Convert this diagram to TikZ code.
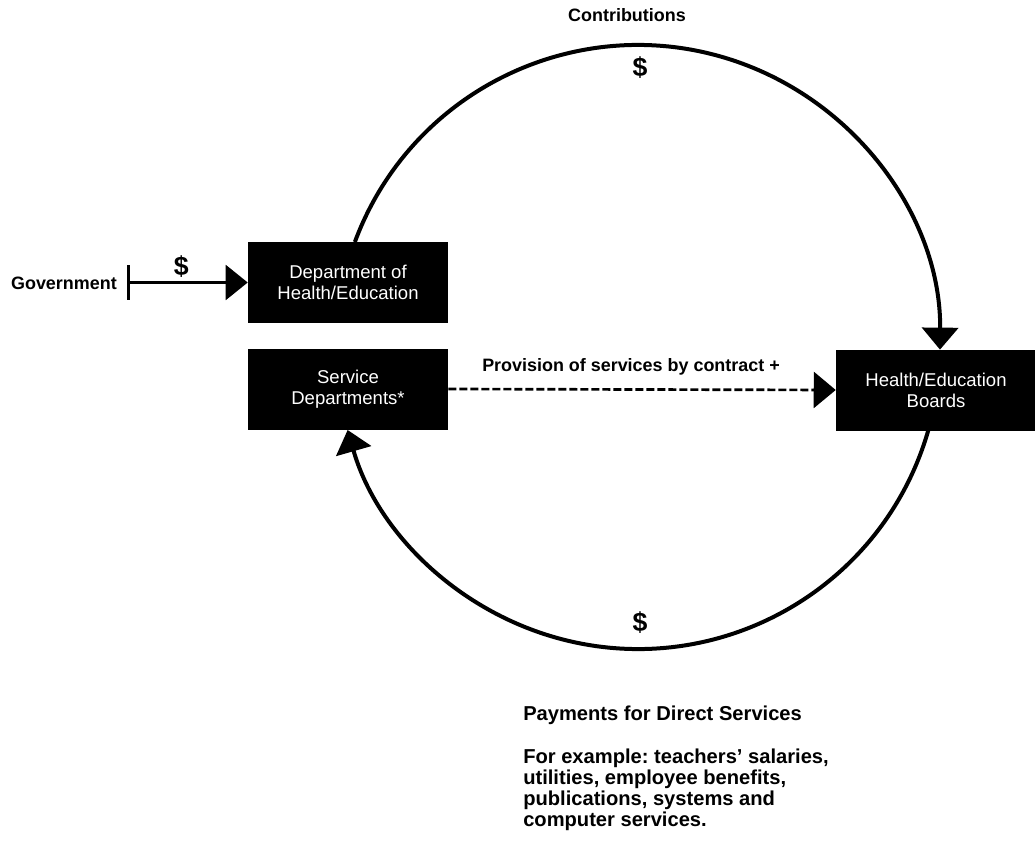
\documentclass[tikz,border=0pt]{standalone}
\usepackage{fontspec}
\setmainfont{Liberation Sans}
\usetikzlibrary{arrows.meta,calc}
\frenchspacing

\begin{document}
\begin{tikzpicture}[x=0.75pt, y=-0.75pt,
  box/.style={fill=black, text=white, inner sep=0pt, minimum width=150pt,
    minimum height=60.75pt, align=center, font=\fontsize{13.9}{15.75}\selectfont},
  lbl/.style={font=\bfseries\fontsize{13.45}{15}\selectfont},
  money/.style={font=\bfseries\fontsize{20}{22}\selectfont},
  note/.style={font=\bfseries\fontsize{15.1}{15.6}\selectfont, inner sep=0pt},
  flow/.style={line width=3pt, -{Triangle[length=16.5pt, width=27pt]}}]
  \useasboundingbox (0,0) rectangle (1035,842);

  % Draw the boxes
  \node[box] (dept) at (348,282.5) {Department of\\Health/Education};
  \node[box] (svc) at (348,389) {Service\\Departments*};
  \node[box] (boards) at (936,390) {Health/Education\\Boards};

  % Government money into the department
  \node[lbl, anchor=east, inner sep=0pt] (gov) at (117,283) {Government};
  \coordinate (govbar) at (127,282.5);
  \draw[line width=2.4pt, {Bar[width=26pt]}-{Triangle[length=16.5pt, width=26pt]}]
    (govbar) -- (dept.west) node[money, pos=0.45, above=-1pt] (govcash) {\$};

  % Contributions, top half of the circle
  \coordinate (c) at (638,347);
  \draw[flow] ($(c)+(200.35:302)$) arc[start angle=200.35, end angle=360.5, radius=302];
  \node[lbl] (contrib) at (627,15) {Contributions};
  \node[money] (topcash) at (640,68) {\$};

  % Payments, bottom half of the circle
  \draw[flow] ($(c)+(15.95:302)$) arc[start angle=15.95, end angle=164.05, radius=302];
  \node[money] (botcash) at (640,623) {\$};

  % Services by contract
  \draw[line width=2pt, dash pattern=on 6pt off 2.25pt,
    -{Triangle[length=16.5pt, width=27pt]}] (svc.east) -- (boards.west);
  \node[lbl] (contract) at (631,367) {Provision of services by contract +};

  % Notes below
  \node[note, anchor=west] (pay) at (523,715) {Payments for Direct Services};
  \node[note, anchor=north west, align=left] (example) at (523,749)
    {For example: teachers' salaries,\\utilities, employee benefits,\\publications, systems and\\computer services.};
\end{tikzpicture}
\end{document}
